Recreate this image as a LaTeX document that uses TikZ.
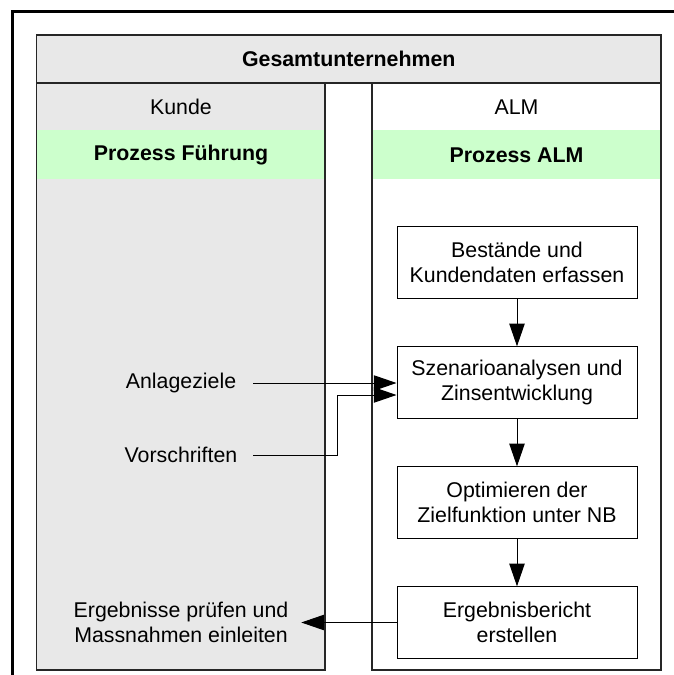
\documentclass[tikz,border=0pt]{standalone}
\usepackage{fontspec}
\setmainfont{Liberation Sans}
\usetikzlibrary{arrows.meta,calc}
\definecolor{lanegrey}{HTML}{E8E8E8}
\definecolor{bandgreen}{HTML}{CCFFCC}
\begin{document}
\begin{tikzpicture}[x=0.75pt,y=-0.75pt,
  every node/.style={font=\fontsize{16}{18.75}\selectfont},
  lane/.style={draw=black!85, line width=0.9pt},
  stepbox/.style={draw, line width=0.75pt, minimum width=180pt, minimum height=53.5pt, align=center, inner sep=0pt},
  flow/.style={draw, line width=0.75pt, -{Triangle[length=17pt,width=11.5pt]}},
  lbl/.style={align=center, inner sep=0pt},
  frame/.style={draw, line width=2.25pt}
]
\useasboundingbox (0,0) rectangle (674,675);
\clip (0,0) rectangle (674,675);
% outer frame (runs off the right and bottom edges)
\draw[frame] (12.5,11) rectangle (720,720);
% lanes
\fill[lanegrey] (36.5,35) rectangle (661,83);
\fill[lanegrey] (36.5,83) rectangle (325,670);
\fill[bandgreen] (36.5,130) rectangle (325,179);
\fill[bandgreen] (372,130) rectangle (661,179);
\draw[lane] (36.5,35) rectangle (661,83);
\draw[lane] (36.5,83) rectangle (325,670);
\draw[lane] (372,83) rectangle (661,670);
% headers
\node[lbl, font=\fontsize{16}{18.75}\selectfont\bfseries] (ges) at (348.75,59) {Gesamtunternehmen};
\node[lbl] (kunde) at (181,107) {Kunde};
\node[lbl] (alm) at (516.5,107) {ALM};
\node[lbl, font=\fontsize{16}{18.75}\selectfont\bfseries] (pf) at (181,155) {Prozess Führung};
\node[lbl, font=\fontsize{16}{18.75}\selectfont\bfseries] (pa) at (516.5,155) {Prozess ALM};
% process boxes
\node[stepbox] (b1) at (517,262.5) {Bestände und\\Kundendaten erfassen};
\node[stepbox] (b2) at (517,382.5) {Szenarioanalysen und\\Zinsentwicklung};
\node[stepbox] (b3) at (517,502.5) {Optimieren der\\Zielfunktion unter NB};
\node[stepbox] (b4) at (517,622.5) {Ergebnisbericht\\erstellen};
% left texts
\node[lbl, minimum width=108pt] (anl) at (181,383) {Anlageziele};
\node[lbl, minimum width=108pt] (vor) at (181,455) {Vorschriften};
\node[lbl, minimum width=180pt] (erg) at (181,622.5) {Ergebnisse prüfen und\\Massnahmen einleiten};
% connectors
\draw[flow] (b1) -- (b2);
\draw[flow] (b2) -- (b3);
\draw[flow] (b3) -- (b4);
\draw[flow] (anl.east) -- (anl.east -| b2.west);
\draw[flow] (vor.east) -- ++(84,0) -- ++(0,-60) -- ($(b2.west)+(0,12.5)$);
\draw[flow] (b4.west) -- (erg.east);
\end{tikzpicture}
\end{document}
